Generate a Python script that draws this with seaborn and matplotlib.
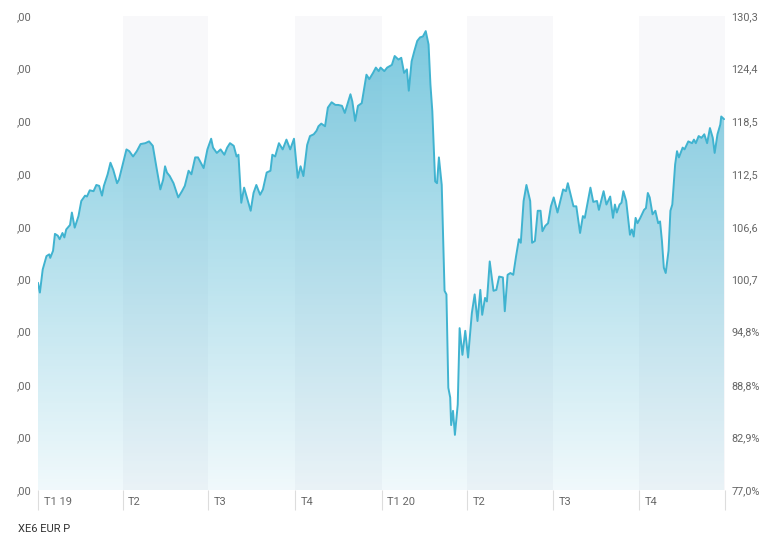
import numpy as np
import pandas as pd
import matplotlib
matplotlib.use("Agg")
import matplotlib.pyplot as plt
import matplotlib.dates as mdates
import seaborn as sns
from matplotlib.transforms import ScaledTranslation

# ---------------- data ----------------
days_since_start = [0, 2, 5, 9, 12, 13, 16, 18, 21, 23, 26, 28, 30, 34, 36, 39, 43, 46, 50, 52, 55, 59, 62, 65, 68,
                    70, 74, 77, 80, 84, 86, 90, 94, 97, 101, 105, 109, 114, 118, 122, 126, 130, 133, 135, 137, 140,
                    144, 149, 153, 156, 160, 163, 167, 170, 176, 180, 184, 186, 190, 194, 198, 201, 204, 208, 211,
                    213, 216, 219, 222, 226, 229, 232, 236, 239, 243, 247, 249, 252, 256, 260, 264, 268, 272, 276,
                    279, 282, 286, 289, 293, 296, 298, 301, 305, 308, 312, 316, 319, 323, 326, 332, 334, 337, 340,
                    344, 349, 352, 356, 359, 362, 364, 368, 371, 376, 379, 383, 386, 389, 392, 394, 397, 400, 403,
                    406, 409, 412, 415, 417, 419, 422, 424, 426, 429, 432, 434, 436, 438, 439, 441, 443, 446, 448,
                    451, 454, 457, 461, 464, 467, 470, 472, 475, 477, 480, 484, 487, 490, 494, 496, 499, 502, 505,
                    508, 511, 513, 516, 519, 523, 525, 528, 531, 534, 536, 539, 542, 545, 548, 552, 555, 558, 561,
                    563, 566, 569, 572, 576, 579, 581, 587, 590, 594, 596, 601, 604, 608, 611, 613, 615, 618, 620,
                    622, 625, 629, 631, 633, 635, 637, 640, 644, 646, 648, 650, 653, 656, 659, 661, 663, 665, 667,
                    670, 672, 674, 677, 679, 681, 685, 687, 691, 695, 697, 699, 702, 705, 708, 711, 714, 717, 719,
                    722, 725, 726, 729]

index_values = [100.3, 99.2, 101.8, 103.3, 103.5, 103.1, 103.9, 105.8, 105.6, 105.2, 105.9, 105.4, 106.3, 106.8,
                108.2, 106.5, 107.8, 109.5, 110.1, 110.0, 110.7, 110.6, 111.3, 111.2, 110.1, 111.2, 112.5, 113.8,
                113.0, 111.5, 111.9, 113.6, 115.3, 115.1, 114.5, 115.1, 115.9, 116.0, 116.2, 115.7, 113.2, 110.8,
                111.9, 113.4, 112.7, 112.3, 111.5, 109.9, 110.6, 111.2, 112.9, 112.5, 114.4, 114.4, 113.2, 115.3,
                116.5, 115.5, 114.9, 115.3, 114.7, 115.5, 116.0, 115.7, 114.5, 114.7, 109.3, 111.0, 109.9, 108.4,
                110.4, 111.3, 110.2, 110.8, 112.7, 112.9, 114.7, 114.5, 116.0, 115.3, 116.4, 115.3, 116.5, 112.1,
                113.4, 112.3, 115.8, 116.8, 117.0, 117.4, 117.9, 118.2, 117.9, 120.0, 120.6, 120.3, 120.3, 120.2,
                119.4, 121.5, 120.7, 118.5, 120.2, 120.5, 123.7, 123.2, 123.9, 124.5, 124.1, 124.5, 124.1, 124.5,
                124.8, 125.8, 125.4, 125.6, 123.9, 124.3, 121.9, 125.2, 126.4, 127.5, 127.9, 128.0, 128.6, 127.1,
                122.6, 119.6, 111.7, 111.5, 114.4, 111.3, 99.4, 99.0, 88.5, 87.4, 84.3, 85.9, 83.2, 86.6, 95.2,
                92.2, 94.9, 91.9, 96.9, 99.0, 96.0, 99.5, 96.7, 98.6, 98.2, 102.7, 99.4, 99.5, 101.0, 100.9, 97.1,
                101.2, 101.4, 101.2, 103.3, 105.2, 104.8, 109.5, 111.3, 109.5, 104.8, 105.0, 108.4, 108.4, 106.1,
                106.7, 107.0, 108.9, 109.9, 108.2, 109.5, 110.8, 110.6, 111.5, 110.2, 108.9, 108.9, 105.9, 107.8,
                107.6, 111.0, 109.4, 109.5, 108.5, 110.6, 109.1, 110.0, 107.6, 109.1, 108.2, 109.1, 109.3, 110.6,
                109.5, 105.7, 106.3, 105.5, 107.6, 107.0, 107.6, 108.5, 108.7, 110.4, 109.9, 108.0, 108.4, 107.0,
                107.2, 105.0, 102.0, 101.4, 103.9, 108.4, 109.1, 113.6, 115.1, 114.4, 115.5, 115.3, 116.2, 116.0,
                116.4, 116.0, 116.8, 116.6, 117.0, 116.0, 117.7, 116.6, 114.9, 117.0, 118.1, 119.0, 118.7]

right_tick_values = [77.0, 82.9, 88.8, 94.8, 100.7, 106.6, 112.5, 118.5, 124.4, 130.3]
right_tick_labels = ["77,0%", "82,9%", "88,8%", "94,8%", "100,7", "106,6", "112,5", "118,5", "124,4", "130,3"]
left_tick_labels = [",00"] * len(right_tick_values)

quarter_ticks = ["2019-01-01", "2019-04-01", "2019-07-01", "2019-10-01", "2020-01-01",
                 "2020-04-01", "2020-07-01", "2020-10-01", "2020-12-31"]
quarter_labels = ["T1 19", "T2", "T3", "T4", "T1 20", "T2", "T3", "T4", ""]
shaded_quarters = [("2019-04-01", "2019-07-01"), ("2019-10-01", "2020-01-01"),
                   ("2020-04-01", "2020-07-01"), ("2020-10-01", "2020-12-31")]
series_name = "XE6 EUR P"
start_date = "2019-01-01"
end_date = "2020-12-31"

# ---------------- styling ----------------
sns.set_theme(style="white")
plt.rcParams["font.family"] = ["Roboto", "DejaVu Sans"]

LINE_COLOR = "#40b3d0"
FILL_RGB = np.array([0.27, 0.70, 0.82])
BAND_COLOR = "#f8f8fa"
TEXT_COLOR = "#666666"

dates = pd.Timestamp(start_date) + pd.to_timedelta(days_since_start, unit="D")
df = pd.DataFrame({"date": dates, "value": index_values})

fig = plt.figure(figsize=(7.59, 5.35), dpi=100)
ax = fig.add_axes([38 / 759, 1 - 490 / 535, (725 - 38) / 759, (490 - 16) / 535])

ymin, ymax = right_tick_values[0], right_tick_values[-1]
x0, x1 = pd.Timestamp(start_date), pd.Timestamp(end_date)

# quarter bands
for a, b in shaded_quarters:
    ax.axvspan(pd.Timestamp(a), pd.Timestamp(b), color=BAND_COLOR, zorder=0, lw=0)

# gradient area
poly = ax.fill_between(df["date"], df["value"], ymin, color="none", lw=0)
n = 256
alpha = np.linspace(0.08, 0.72, n)  # bottom -> top
rgba = np.zeros((n, 1, 4))
rgba[:, 0, :3] = FILL_RGB
rgba[:, 0, 3] = alpha
im = ax.imshow(rgba, extent=[mdates.date2num(x0), mdates.date2num(x1), ymin, ymax],
               origin="lower", aspect="auto", zorder=1, interpolation="bilinear")
im.set_clip_path(poly.get_paths()[0], transform=ax.transData)

sns.lineplot(data=df, x="date", y="value", color=LINE_COLOR, linewidth=1.4, ax=ax, zorder=3, sort=False)

ax.set_xlim(x0, x1)
ax.set_ylim(ymin, ymax)
ax.set_xlabel("")
ax.set_ylabel("")
for s in ax.spines.values():
    s.set_visible(False)

# x ticks
ax.set_xticks([pd.Timestamp(t) for t in quarter_ticks])
ax.set_xticklabels(quarter_labels)
ax.tick_params(axis="x", direction="out", length=14.5, width=0.8, color="#dddddd",
               pad=-9.5, labelsize=8, labelcolor=TEXT_COLOR, bottom=True)
offset = ScaledTranslation(4 / 72, 0, fig.dpi_scale_trans)
for lab in ax.get_xticklabels():
    lab.set_horizontalalignment("left")
    lab.set_transform(lab.get_transform() + offset)

# left y labels
ax.set_yticks(right_tick_values)
ax.set_yticklabels(left_tick_labels)
ax.tick_params(axis="y", length=0, pad=4.5, labelsize=8, labelcolor=TEXT_COLOR)

# right y labels
ax2 = ax.twinx()
ax2.set_ylim(ymin, ymax)
ax2.set_yticks(right_tick_values)
ax2.set_yticklabels(right_tick_labels)
ax2.tick_params(axis="y", length=0, pad=4.5, labelsize=7.8, labelcolor=TEXT_COLOR)
for s in ax2.spines.values():
    s.set_visible(False)
ax2.grid(False)
ax.grid(False)

fig.text(18 / 759, 1 - 529 / 535, series_name, fontsize=8, color="#333333", va="center", ha="left")

fig.savefig("out.png", dpi=100)
